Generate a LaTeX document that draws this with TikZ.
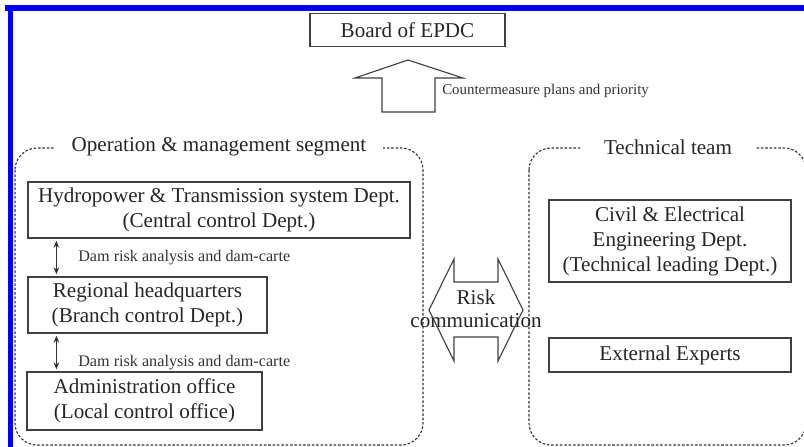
\documentclass[tikz,border=0pt]{standalone}
\usepackage{fontspec}
\setmainfont{Liberation Serif}
\usetikzlibrary{arrows.meta}

\begin{document}
\begin{tikzpicture}[x=0.025cm, y=-0.025cm, >={Stealth[length=5pt,width=4pt]},
  B/.style={draw=black!75, line width=0.8pt, align=center, inner sep=0pt, text=black!85, font=\fontsize{15}{17.8}\selectfont},
  T/.style={fill=white, inner ysep=2pt, text=black!85, font=\fontsize{15}{17.8}\selectfont},
  S/.style={anchor=west, inner sep=0pt, text=black!80, font=\fontsize{11.5}{13}\selectfont},
  R/.style={draw=black!80, line width=0.8pt, dash pattern=on 1.8pt off 1.3pt, rounded corners=0.55cm}]

\clip (0,0) rectangle (804,447);
\fill[white] (0,0) rectangle (804,447);

% blue frame on top and left
\fill[blue] (5,5) rectangle (804,11);
\fill[blue] (8,5) rectangle (13,447);

% dashed segments
\draw[R] (15,148) rectangle (423,445);
\draw[R] (529,148) rectangle (806,445);
\node[T, inner xsep=0.42cm] (seg) at (219,147) {Operation \& management segment};
\node[T, inner xsep=0.6cm] (team) at (668,147) {Technical team};

% top
\node[B, minimum width=4.875cm, minimum height=0.825cm] (board) at (407.5,30) {Board of EPDC};
\draw[draw=black!75, line width=0.8pt] (408,60) -- (463,78) -- (435,78) -- (435,112) -- (382,112) -- (382,78) -- (355,78) -- cycle;
\node[S, font=\fontsize{10.6}{12}\selectfont] (plans) at (442,91) {Countermeasure plans and priority};

% operation & management segment
\node[B, minimum width=9.55cm, minimum height=1.4cm] (hydro) at (219,210) {Hydropower \& Transmission system Dept.\\(Central control Dept.)};
\node[B, minimum width=5.975cm, minimum height=1.4cm] (regional) at (147.5,305) {Regional headquarters\\(Branch control Dept.)};
\node[B, minimum width=5.875cm, minimum height=1.45cm] (admin) at (144.5,401) {Administration office\\(Local control office)};

\draw[<->, line width=0.8pt, black!80, shorten <=1.5pt, shorten >=1.5pt] ([xshift=0.725cm]hydro.south west) -- ([xshift=0.725cm]hydro.south west |- regional.north);
\draw[<->, line width=0.8pt, black!80, shorten <=1.5pt, shorten >=1.5pt] ([xshift=0.725cm]regional.south west) -- ([xshift=0.725cm]regional.south west |- admin.north);
\node[S] (dam1) at (78,258) {Dam risk analysis and dam-carte};
\node[S] (dam2) at (78,363) {Dam risk analysis and dam-carte};

% technical team
\node[B, minimum width=6.05cm, minimum height=2.05cm] (civil) at (670,241) {Civil \& Electrical\\Engineering Dept.\\(Technical leading Dept.)};
\node[B, minimum width=6.05cm, minimum height=0.85cm] (experts) at (670,355) {External Experts};

% risk communication
\draw[draw=black!75, line width=0.8pt] (429,310) -- (454,259) -- (454,282) -- (498,282) -- (498,259) -- (523,310) -- (498,361) -- (498,337) -- (454,337) -- (454,361) -- cycle;
\node[align=center, text=black!85, font=\fontsize{15}{16.4}\selectfont] (risk) at (476,309) {Risk\\communication};

\end{tikzpicture}
\end{document}
